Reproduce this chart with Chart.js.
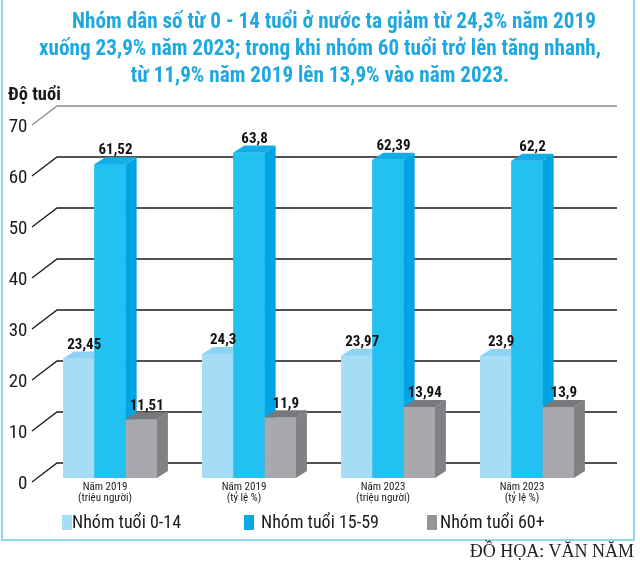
<!DOCTYPE html>
<html lang="vi">
<head>
<meta charset="utf-8">
<script src="https://cdn.jsdelivr.net/npm/chart.js@4"></script>
<style>
  html, body { margin: 0; padding: 0; background: #fff; }
  #wrap { position: relative; width: 640px; height: 583px; overflow: hidden;
          font-family: "Roboto Condensed", "Open Sans Condensed", sans-serif; color: #1a1a1a; }
  #frame { position: absolute; left: 1px; top: -3px; width: 634px; height: 544px;
           border: 2px solid #8fd6f5; box-sizing: border-box; }
  #chart { position: absolute; left: 0; top: 0; }
  #title { position: absolute; left: 0; top: 7px; width: 640px; text-align: center;
           color: #1fa8e0; font-weight: bold; font-size: 21.2px; line-height: 27px; white-space: nowrap; }
  #title .first { padding-left: 28px; }
  #unit { position: absolute; left: 8px; top: 83px; font-weight: bold; font-size: 18.5px; }
  .box { position: absolute; top: 515px; width: 10px; height: 15px; }
  .leg { position: absolute; top: 510px; font-size: 18px; line-height: 24px; white-space: nowrap; }
  #credit { position: absolute; right: 6px; top: 541px; font-family: "Liberation Serif", "DejaVu Serif", serif;
            font-size: 18px; color: #222; }
</style>
</head>
<body>
<div id="wrap">
  <div id="frame"></div>
  <canvas id="chart" width="640" height="583"></canvas>
  <div id="title"></div>
  <div id="unit">Độ tuổi</div>
  <div id="legend"></div>
  <div id="credit">ĐỒ HỌA: VĂN NĂM</div>
</div>
<script>
// chart data
const titleLines = [
  "Nhóm dân số từ 0 - 14 tuổi ở nước ta giảm từ 24,3% năm 2019",
  "xuống 23,9% năm 2023; trong khi nhóm 60 tuổi trở lên tăng nhanh,",
  "từ 11,9% năm 2019 lên 13,9% vào năm 2023."
]
const categories = [
  ["Năm 2019", "(triệu người)"],
  ["Năm 2019", "(tỷ lệ %)"],
  ["Năm 2023", "(triệu người)"],
  ["Năm 2023", "(tỷ lệ %)"]
]
const seriesNames = ["Nhóm tuổi 0-14", "Nhóm tuổi 15-59", "Nhóm tuổi 60+"]
const age0to14 = [23.45, 24.3, 23.97, 23.9]
const age15to59 = [61.52, 63.8, 62.39, 62.2]
const age60plus = [11.51, 11.9, 13.94, 13.9]
const yTicks = [0, 10, 20, 30, 40, 50, 60, 70]

// colours: front face, side face, top face, legend swatch
const fronts = ["#a5dcf6", "#22c1f1", "#a7a9ac"]
const sides = ["#7fcdf0", "#00a4e2", "#7f8184"]
const tops = ["#8cd3f4", "#12ace6", "#77797c"]
const swatches = ["#a5dcf6", "#0aa9e6", "#939598"]
const boxX = [62, 244, 427]
const textX = [72, 261, 440]

const FONT = '"Roboto Condensed", "Open Sans Condensed", sans-serif'
const DX = 11, DY = 7, BACK = 15
const fmt = v => String(v).replace(".", ",")

document.querySelector("#title").innerHTML =
  titleLines.map((t, i) => `<div class="${i == 0 ? "first" : ""}">${t}</div>`).join("")

document.querySelector("#legend").innerHTML = seriesNames.map((n, i) =>
  `<div class="box" style="left:${boxX[i]}px;background:${swatches[i]}"></div>` +
  `<div class="leg" style="left:${textX[i]}px">${n}</div>`
).join("")

Chart.defaults.font.family = FONT
Chart.defaults.color = "#1a1a1a"

// back-wall grid lines with the perspective slant from each tick label
const grid3d = {
  id: "grid3d",
  beforeDatasetsDraw(chart) {
    const {ctx, chartArea, scales: {y}} = chart
    ctx.save()
    yTicks.forEach(v => {
      const py = y.getPixelForValue(v)
      const by = py - BACK
      ctx.strokeStyle = v == yTicks[yTicks.length - 1] ? "#8c8c8c" : "#1a1a1a"
      ctx.lineWidth = 1.3
      ctx.beginPath()
      ctx.moveTo(chartArea.left - 8.5, py + 4)
      ctx.lineTo(chartArea.left + 16.5, by)
      ctx.lineTo(chartArea.right + 20.5, by)
      ctx.stroke()
    })
    ctx.restore()
  }
}

// extrude every bar into a box and put the value above it
const bars3d = {
  id: "bars3d",
  afterDatasetsDraw(chart) {
    const ctx = chart.ctx
    const metas = chart.data.datasets.map((d, i) => chart.getDatasetMeta(i))
    const poly = pts => {
      ctx.beginPath()
      ctx.moveTo(pts[0], pts[1])
      for (let k = 2; k < pts.length; k += 2) ctx.lineTo(pts[k], pts[k + 1])
      ctx.closePath()
      ctx.fill()
    }
    ctx.save()
    categories.forEach((c, j) => {
      metas.forEach((m, i) => {
        const {x, y, base, width} = m.data[j].getProps(["x", "y", "base", "width"], true)
        const l = x - width / 2, r = x + width / 2
        ctx.fillStyle = fronts[i]
        ctx.fillRect(l, y, width, base - y)
        ctx.fillStyle = sides[i]
        poly([r, y, r + DX, y - DY, r + DX, base - DY, r, base])
        ctx.fillStyle = tops[i]
        poly([l, y, l + DX, y - DY, r + DX, y - DY, r, y])
      })
    })
    ctx.fillStyle = "#111"
    ctx.font = "bold 15px " + FONT
    ctx.textAlign = "center"
    ctx.textBaseline = "bottom"
    metas.forEach((m, i) => {
      m.data.forEach((bar, j) => {
        const {x, y} = bar.getProps(["x", "y"], true)
        ctx.fillText(fmt(chart.data.datasets[i].data[j]), x + DX / 2, y - DY + 1)
      })
    })
    ctx.restore()
  }
}

new Chart("chart", {
  type: "bar",
  data: {
    labels: categories,
    datasets: [
      {label: seriesNames[0], data: age0to14, backgroundColor: fronts[0]},
      {label: seriesNames[1], data: age15to59, backgroundColor: fronts[1]},
      {label: seriesNames[2], data: age60plus, backgroundColor: fronts[2]}
    ]
  },
  options: {
    responsive: false,
    animation: false,
    devicePixelRatio: 1,
    categoryPercentage: 0.675,
    barPercentage: 1,
    borderWidth: 0,
    layout: {padding: {top: 121, left: 0.5, right: 43.5, bottom: 0}},
    plugins: {legend: {display: false}, tooltip: {enabled: false}},
    scales: {
      x: {
        grid: {display: false, drawTicks: false},
        border: {display: false},
        ticks: {font: {size: 11, lineHeight: 1.05}, padding: 3, labelOffset: -5, maxRotation: 0},
        afterFit: s => { s.height = 105 }
      },
      y: {
        min: 0, max: 70,
        grid: {display: false, drawTicks: false},
        border: {display: false},
        ticks: {stepSize: 10, font: {size: 19}, padding: 13, labelOffset: 6},
        afterFit: s => { s.width = 40 }
      }
    }
  },
  plugins: [grid3d, bars3d]
})
</script>
</body>
</html>
